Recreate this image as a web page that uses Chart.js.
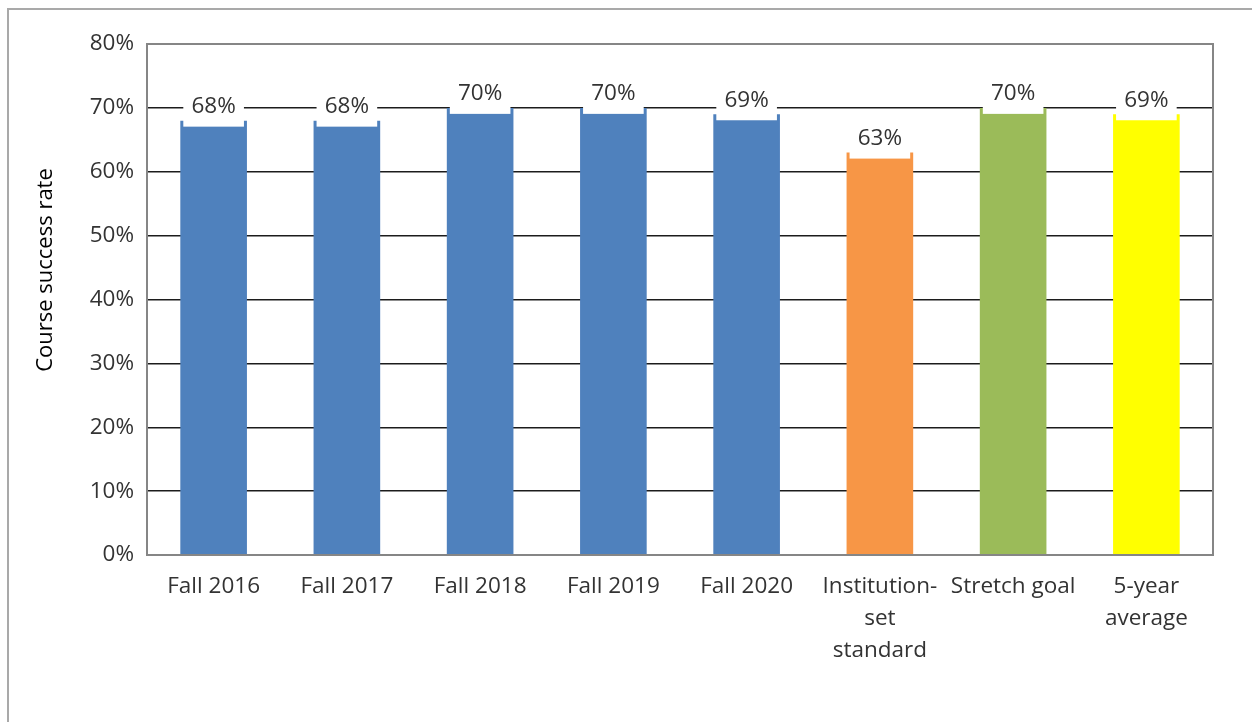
<!DOCTYPE html>
<html>
<head>
	<meta charset="UTF-8">
	<title>Course success rate</title>
	<script src="https://cdn.jsdelivr.net/npm/chart.js@4.4.1/dist/chart.umd.min.js"></script>
	<style>
		html, body { margin: 0; padding: 0; background: #fff; }
		#frame {
			position: absolute; left: 7px; top: 8px; width: 1260px; height: 730px;
			border-left: 2px solid #a9a9a9; border-top: 2px solid #a9a9a9;
		}
		#wrap { position: absolute; left: 0; top: 0; width: 1252px; height: 722px; }
	</style>
</head>
<body>
	<div id="frame"></div>
	<div id="wrap"><canvas id="chart" width="1252" height="722"></canvas></div>
	<script>
	// data
	const categories = [
		"Fall 2016", "Fall 2017", "Fall 2018", "Fall 2019", "Fall 2020",
		["Institution-", "set", "standard"], "Stretch goal", ["5-year", "average"]
	];
	const successRate = [68, 68, 70, 70, 69, 63, 70, 69];
	const barColors = ["#4f81bd", "#4f81bd", "#4f81bd", "#4f81bd", "#4f81bd", "#f79646", "#9bbb59", "#ffff00"];
	const yTicks = [0, 10, 20, 30, 40, 50, 60, 70, 80];
	const yTitle = "Course success rate";

	const textColor = "#333";
	const fontFamily = "'Open Sans', sans-serif";

	// plot frame, y title, and white-boxed value labels on the bars
	const labelPlugin = {
		id: "valueLabels",
		afterDatasetsDraw(chart) {
			const ctx = chart.ctx;
			const a = chart.chartArea;
			ctx.save();
			ctx.strokeStyle = "#868686";
			ctx.lineWidth = 2;
			ctx.strokeRect(a.left, a.top, a.right - a.left, a.bottom - a.top);

			// axis title sits a bit above the middle in the original
			ctx.save();
			ctx.translate(46, 270);
			ctx.rotate(-Math.PI / 2);
			ctx.font = "22px " + fontFamily;
			ctx.fillStyle = "#000";
			ctx.textAlign = "center";
			ctx.textBaseline = "middle";
			ctx.fillText(yTitle, 0, 0);
			ctx.restore();

			const meta = chart.getDatasetMeta(0);
			ctx.font = "22.5px " + fontFamily;
			ctx.textAlign = "center";
			ctx.textBaseline = "middle";
			meta.data.forEach(function(bar, i){
				const w = bar.width - 6;
				ctx.fillStyle = "#fff";
				ctx.fillRect(bar.x - w / 2, bar.y - 29, w, 35);
				ctx.fillStyle = textColor;
				ctx.fillText(successRate[i] + "%", bar.x, bar.y - 14);
			});
			ctx.restore();
		}
	};

	new Chart(document.getElementById("chart"), {
		type: "bar",
		data: {
			labels: categories,
			datasets: [{
				data: successRate,
				backgroundColor: barColors,
				borderWidth: 0,
				barPercentage: 0.5,
				categoryPercentage: 1
			}]
		},
		options: {
			responsive: false,
			animation: false,
			layout: { padding: { top: 44, right: 39, left: 0, bottom: 0 } },
			plugins: { legend: { display: false }, tooltip: { enabled: false } },
			scales: {
				x: {
					grid: { display: false, drawTicks: false },
					border: { color: "#868686", width: 2 },
					ticks: {
						color: textColor,
						font: { family: fontFamily, size: 22.5, lineHeight: 1.42 },
						padding: 16,
						maxRotation: 0,
						autoSkip: false
					},
					afterFit(scale) { scale.height = 167; }
				},
				y: {
					min: 0,
					max: 80,
					afterBuildTicks(scale) { scale.ticks = yTicks.map(v => ({ value: v })); },
					grid: {
						drawTicks: false,
						color: "#1c1c1c",
						lineWidth: 1.4
					},
					border: { color: "#868686", width: 2 },
					ticks: {
						color: textColor,
						font: { family: fontFamily, size: 22.5 },
						padding: 13,
						callback: v => v + "%"
					},
					afterFit(scale) { scale.width = 147; }
				}
			}
		},
		plugins: [labelPlugin]
	});
	</script>
</body>
</html>
